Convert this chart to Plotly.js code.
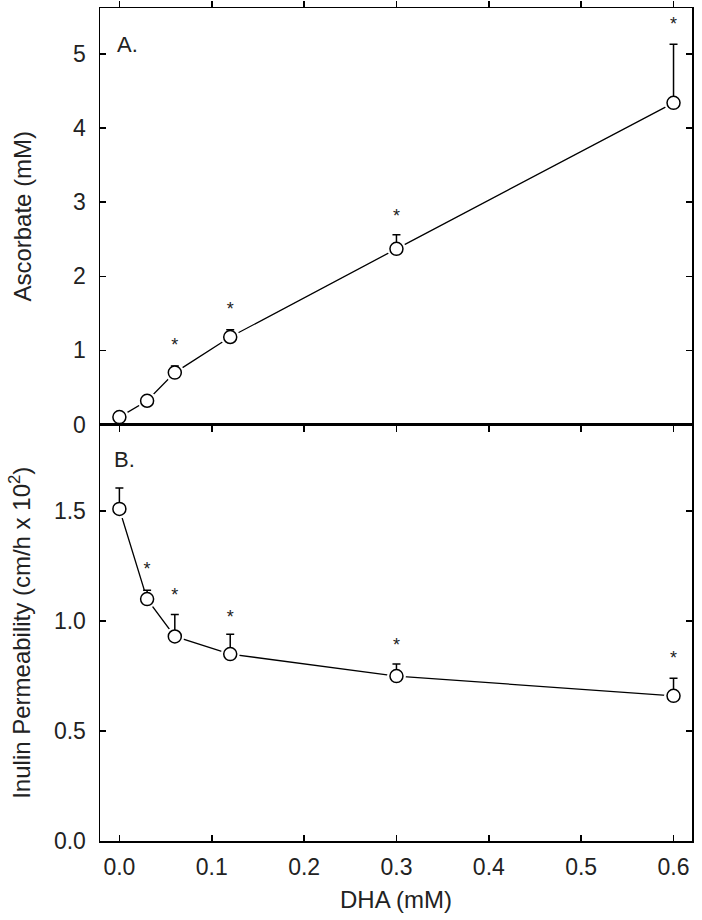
<!DOCTYPE html>
<html>
<head>
<meta charset="utf-8">
<script src="https://cdn.plot.ly/plotly-3.0.1.min.js"></script>
<style>
  html, body { margin: 0; padding: 0; background: #fff; }
  #chart { width: 702px; height: 920px; }
</style>
</head>
<body>
<div id="chart"></div>
<script>
// ---- data ----
const dha = [0, 0.03, 0.06, 0.12, 0.3, 0.6];              // DHA (mM)
const ascorbate = [0.10, 0.32, 0.70, 1.18, 2.37, 4.34];    // panel A, mM
const ascorbateSE = [0.05, 0.03, 0.09, 0.10, 0.19, 0.79];  // upward error bars
const permeability = [1.51, 1.10, 0.93, 0.85, 0.75, 0.66]; // panel B, cm/h x 10^2
const permeabilitySE = [0.095, 0.04, 0.10, 0.09, 0.055, 0.08];

// significance markers (asterisks)
const starA_x = [0.06, 0.12, 0.3, 0.6];
const starA_y = [1.05, 1.54, 2.79, 5.38];
const starB_x = [0.03, 0.06, 0.12, 0.3, 0.6];
const starB_y = [1.23, 1.11, 1.01, 0.885, 0.825];

const xTicks = [0, 0.1, 0.2, 0.3, 0.4, 0.5, 0.6];
const yTicksA = [0, 1, 2, 3, 4, 5];
const yTicksB = [0, 0.5, 1.0, 1.5];

const FONT = '"Liberation Sans", Arial, Helvetica, sans-serif';
const TXT = '#222';

function halo(y, ya) {
  return {
    x: dha, y: y, xaxis: 'x', yaxis: ya, type: 'scatter', mode: 'lines+markers',
    line: {color: '#000', width: 1.3},
    marker: {symbol: 'circle', size: 19, color: '#fff', line: {width: 0}},
    hoverinfo: 'skip', showlegend: false
  };
}
function points(y, se, ya) {
  return {
    x: dha, y: y, xaxis: 'x', yaxis: ya, type: 'scatter', mode: 'markers',
    marker: {symbol: 'circle', size: 13, color: '#fff', line: {color: '#000', width: 1.5}},
    error_y: {type: 'data', symmetric: false, array: se, arrayminus: se.map(() => 0),
              color: '#000', thickness: 1.5, width: 4},
    cliponaxis: false, showlegend: false
  };
}
function stars(x, y, ya) {
  return {
    x: x, y: y, xaxis: 'x', yaxis: ya, type: 'scatter', mode: 'text',
    text: x.map(() => '*'), textposition: 'middle center',
    textfont: {family: FONT, size: 18, color: TXT},
    cliponaxis: false, hoverinfo: 'skip', showlegend: false
  };
}

const data = [
  halo(ascorbate, 'y'), points(ascorbate, ascorbateSE, 'y'), stars(starA_x, starA_y, 'y'),
  halo(permeability, 'y2'), points(permeability, permeabilitySE, 'y2'), stars(starB_x, starB_y, 'y2')
];

const axisCommon = {
  showline: true, linecolor: '#000', linewidth: 1.5,
  ticks: 'inside', ticklen: 6, tickwidth: 1.5, tickcolor: '#000',
  showgrid: false, zeroline: false,
  tickfont: {family: FONT, size: 23, color: TXT}
};

const layout = {
  width: 702, height: 920,
  margin: {l: 100, r: 10, t: 8, b: 79},
  paper_bgcolor: '#fff', plot_bgcolor: '#fff',
  font: {family: FONT, color: TXT},
  showlegend: false,
  xaxis: Object.assign({}, axisCommon, {
    anchor: 'y2', range: [-0.021, 0.62], tickvals: xTicks, tickformat: '.1f',
    mirror: 'allticks', ticklabelstandoff: 5,
    title: {text: 'DHA (mM)', font: {family: FONT, size: 24, color: TXT}, standoff: 12}
  }),
  yaxis: Object.assign({}, axisCommon, {
    domain: [0.5, 1], range: [0, 5.62], tickvals: yTicksA, tickformat: 'd',
    mirror: 'ticks', ticklabelstandoff: 8,
    title: {text: 'Ascorbate (mM)', font: {family: FONT, size: 24, color: TXT}, standoff: 34}
  }),
  yaxis2: Object.assign({}, axisCommon, {
    domain: [0, 0.5], range: [0, 1.894], tickvals: yTicksB, tickformat: '.1f',
    mirror: 'ticks', ticklabelstandoff: 8,
    title: {text: 'Inulin Permeability (cm/h x 10<sup>2</sup>)', font: {family: FONT, size: 24, color: TXT}, standoff: 16}
  }),
  annotations: [
    {text: 'A.', xref: 'x domain', yref: 'y domain', x: 0.025, y: 0.913, xanchor: 'left', yanchor: 'middle',
     showarrow: false, font: {family: FONT, size: 22, color: TXT}},
    {text: 'B.', xref: 'x domain', yref: 'y2 domain', x: 0.02, y: 0.916, xanchor: 'left', yanchor: 'middle',
     showarrow: false, font: {family: FONT, size: 22, color: TXT}}
  ]
};

Plotly.newPlot('chart', data, layout, {staticPlot: true, displayModeBar: false});
</script>
</body>
</html>
